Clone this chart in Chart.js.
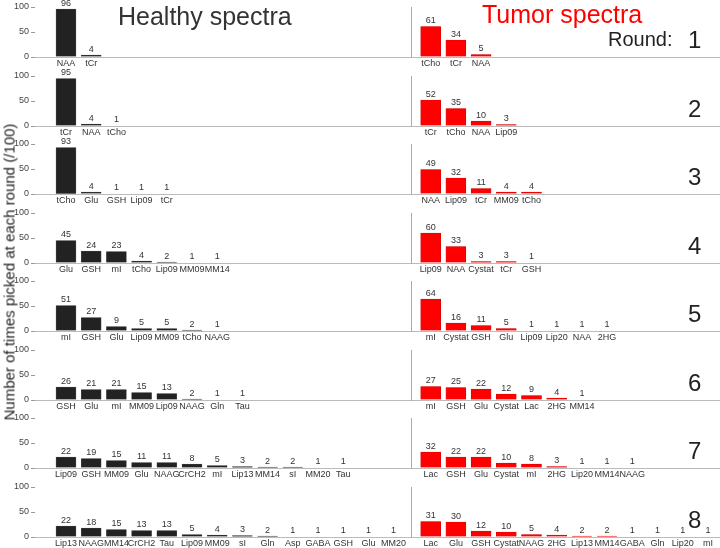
<!DOCTYPE html>
<html>
<head>
<meta charset="utf-8">
<script src="https://cdn.jsdelivr.net/npm/chart.js@4.4.0/dist/chart.umd.min.js"></script>
<style>
  html, body { margin: 0; padding: 0; background: #fff; }
  #page { position: relative; width: 720px; height: 548px; overflow: hidden; font-family: "Liberation Sans", Arial, sans-serif; }
  canvas { position: absolute; left: 0; }
  .txt { position: absolute; white-space: nowrap; line-height: 1; }
</style>
</head>
<body>
<div id="page"></div>
<script>
// --- DATOS ---
const rounds = [1, 2, 3, 4, 5, 6, 7, 8];
const yTicks = [0, 50, 100];

const healthyLabels = [
    ['NAA', 'tCr'],
    ['tCr', 'NAA', 'tCho'],
    ['tCho', 'Glu', 'GSH', 'Lip09', 'tCr'],
    ['Glu', 'GSH', 'mI', 'tCho', 'Lip09', 'MM09', 'MM14'],
    ['mI', 'GSH', 'Glu', 'Lip09', 'MM09', 'tCho', 'NAAG'],
    ['GSH', 'Glu', 'mI', 'MM09', 'Lip09', 'NAAG', 'Gln', 'Tau'],
    ['Lip09', 'GSH', 'MM09', 'Glu', 'NAAG', 'CrCH2', 'mI', 'Lip13', 'MM14', 'sI', 'MM20', 'Tau'],
    ['Lip13', 'NAAG', 'MM14', 'CrCH2', 'Tau', 'Lip09', 'MM09', 'sI', 'Gln', 'Asp', 'GABA', 'GSH', 'Glu', 'MM20']
];
const healthyValues = [
    [96, 4],
    [95, 4, 1],
    [93, 4, 1, 1, 1],
    [45, 24, 23, 4, 2, 1, 1],
    [51, 27, 9, 5, 5, 2, 1],
    [26, 21, 21, 15, 13, 2, 1, 1],
    [22, 19, 15, 11, 11, 8, 5, 3, 2, 2, 1, 1],
    [22, 18, 15, 13, 13, 5, 4, 3, 2, 1, 1, 1, 1, 1]
];

const tumorLabels = [
    ['tCho', 'tCr', 'NAA'],
    ['tCr', 'tCho', 'NAA', 'Lip09'],
    ['NAA', 'Lip09', 'tCr', 'MM09', 'tCho'],
    ['Lip09', 'NAA', 'Cystat', 'tCr', 'GSH'],
    ['mI', 'Cystat', 'GSH', 'Glu', 'Lip09', 'Lip20', 'NAA', '2HG'],
    ['mI', 'GSH', 'Glu', 'Cystat', 'Lac', '2HG', 'MM14'],
    ['Lac', 'GSH', 'Glu', 'Cystat', 'mI', '2HG', 'Lip20', 'MM14', 'NAAG'],
    ['Lac', 'Glu', 'GSH', 'Cystat', 'NAAG', '2HG', 'Lip13', 'MM14', 'GABA', 'Gln', 'Lip20', 'mI']
];
const tumorValues = [
    [61, 34, 5],
    [52, 35, 10, 3],
    [49, 32, 11, 4, 4],
    [60, 33, 3, 3, 1],
    [64, 16, 11, 5, 1, 1, 1, 1],
    [27, 25, 22, 12, 9, 4, 1],
    [32, 22, 22, 10, 8, 3, 1, 1, 1],
    [31, 30, 12, 10, 5, 4, 2, 2, 1, 1, 1, 1]
];

// --- DISPOSICIÓN ---
const FONT = '"Liberation Sans", Arial, sans-serif';
Chart.defaults.font.family = FONT;
Chart.defaults.font.size = 9;
Chart.defaults.color = '#333';

const slot = 25.2;             // px por categoría
const xMin = -1.23;            // el primer metabolito sano cae en x=66
const xMax = xMin + 685 / slot;
const tumorStart = 14.472;     // posición del primer metabolito tumoral
const sepPos = 13.73;          // línea vertical que separa los dos paneles
const baselines = [57, 126, 194, 263, 331, 400, 468, 537];

const page = document.getElementById('page');

function addText(text, css) {
    const d = document.createElement('div');
    d.className = 'txt';
    d.textContent = text;
    Object.assign(d.style, css);
    page.appendChild(d);
    return d;
}

// etiquetas con el valor encima de cada barra
const valueLabels = {
    id: 'valueLabels',
    afterDatasetsDraw(chart) {
        const ctx = chart.ctx;
        ctx.save();
        ctx.font = '9px ' + FONT;
        ctx.fillStyle = '#333';
        ctx.textAlign = 'center';
        ctx.textBaseline = 'bottom';
        chart.data.datasets.forEach((ds, i) => {
            chart.getDatasetMeta(i).data.forEach((bar, j) => {
                ctx.fillText(ds.data[j].y, bar.x, bar.y - 1);
            });
        });
        ctx.restore();
    }
};

rounds.forEach((r, i) => {
    const canvas = document.createElement('canvas');
    canvas.width = 720;
    canvas.height = 72;
    canvas.style.top = (baselines[i] - 58) + 'px';
    page.appendChild(canvas);

    const healthy = healthyValues[i].map((v, j) => ({ x: j, y: v }));
    const tumor = tumorValues[i].map((v, j) => ({ x: tumorStart + j, y: v }));
    const tickPos = healthy.map(p => p.x).concat(tumor.map(p => p.x));
    const tickText = healthyLabels[i].concat(tumorLabels[i]);

    new Chart(canvas, {
        type: 'bar',
        data: {
            datasets: [
                { data: healthy, backgroundColor: '#222', borderColor: '#555', borderWidth: 0.6, barThickness: 20 },
                { data: tumor, backgroundColor: '#ff0000', borderColor: '#d00000', borderWidth: 0.6, barThickness: 20 }
            ]
        },
        options: {
            responsive: false,
            animation: false,
            devicePixelRatio: 1,
            grouped: false,
            layout: { padding: { top: 8, left: 0, right: 0, bottom: 0 } },
            plugins: { legend: { display: false }, tooltip: { enabled: false } },
            scales: {
                x: {
                    type: 'linear',
                    offset: false,
                    min: xMin,
                    max: xMax,
                    grid: { display: false, drawTicks: false },
                    border: { display: true, color: '#bbb', width: 1 },
                    afterBuildTicks: (scale) => { scale.ticks = tickPos.map(v => ({ value: v })); },
                    afterFit: (scale) => { scale.height = 14; },
                    ticks: {
                        autoSkip: false, maxRotation: 0, minRotation: 0, padding: 1,
                        color: '#333', font: { size: 9 },
                        callback: (v, idx) => tickText[idx]
                    }
                },
                y: {
                    min: 0,
                    max: 100,
                    afterBuildTicks: (scale) => { scale.ticks = yTicks.map(v => ({ value: v })); },
                    afterFit: (scale) => { scale.width = 35; },
                    grid: { drawOnChartArea: false, drawTicks: true, tickLength: 4, color: '#999' },
                    border: { display: false },
                    ticks: { padding: 2, color: '#444', font: { size: 9 } }
                },
                sep: {
                    type: 'linear',
                    axis: 'y',
                    min: 0,
                    max: 100,
                    position: { x: sepPos },
                    grid: { display: false, drawTicks: false },
                    border: { display: true, color: '#aaa', width: 1 },
                    ticks: { display: false }
                }
            }
        },
        plugins: [valueLabels]
    });

    addText(String(r), { left: '688px', top: (baselines[i] - 29) + 'px', fontSize: '24px', color: '#222' });
});

addText('Healthy spectra', { left: '118px', top: '4px', fontSize: '25px', color: '#333' });
addText('Tumor spectra', { left: '482px', top: '2px', fontSize: '25px', color: '#ff0000' });
addText('Round:', { left: '608px', top: '29px', fontSize: '20px', color: '#222' });

const yTitle = addText('Number of times picked at each round (/100)', {
    left: '9px', top: '272px', fontSize: '15px', color: '#222'
});
yTitle.style.transform = 'translate(-50%, -50%) rotate(-90deg)';
</script>
</body>
</html>
